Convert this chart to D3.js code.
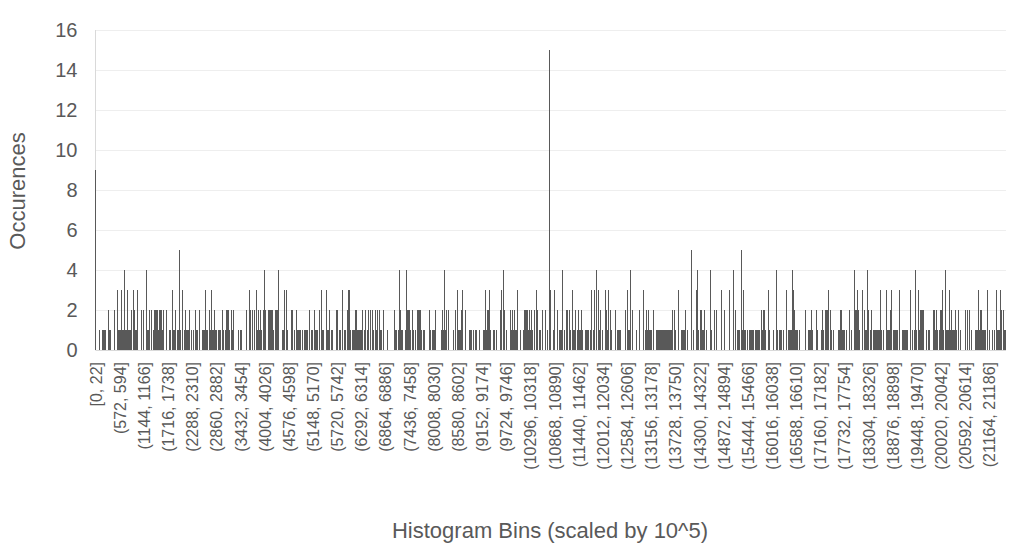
<!DOCTYPE html>
<html lang="en">
<head>
    <meta charset="UTF-8">
    <title>Histogram</title>
    <script src="https://cdn.jsdelivr.net/npm/d3@7"></script>
    <style>
        body { margin: 0; background: #fff; }
        text { font-family: "Liberation Sans", Arial, sans-serif; fill: #595959; }
        .grid line { stroke: #eeeeee; }
        .bar { fill: #595959; }
    </style>
</head>
<body>
<script>
    // counts per bin, one row per labelled group of 26 bins (bin width 22)
    var counts = [
        9,0,0,0,1,0,0,1,1,1,1,0,0,2,0,1,1,0,0,0,2,0,0,3,1,1,
        1,3,0,1,1,4,1,1,3,1,1,1,2,0,3,2,0,1,1,3,0,0,0,2,0,2,
        0,0,4,0,1,1,2,0,2,0,1,2,2,2,2,1,2,2,2,2,1,2,0,0,2,0,
        0,1,1,0,3,1,1,0,2,0,1,1,5,1,0,3,0,1,2,1,0,1,1,2,0,1,
        0,1,0,2,1,1,0,2,0,0,0,1,1,1,3,1,1,0,2,1,3,1,1,0,2,1,
        1,0,1,1,1,0,2,1,0,1,0,2,2,2,1,0,2,1,2,0,0,0,0,1,0,0,
        1,1,0,0,0,0,2,0,0,3,2,0,2,2,0,2,0,3,1,2,1,2,1,0,2,4,
        2,0,0,0,2,2,2,2,2,1,0,2,2,2,4,0,0,0,0,1,1,3,0,3,1,0,
        0,0,2,1,2,0,1,0,2,1,1,1,1,0,1,0,1,1,1,1,1,0,2,0,1,1,
        0,2,1,1,1,0,0,2,0,3,1,1,0,0,3,1,1,2,0,1,1,1,0,0,0,2,
        2,0,1,1,0,3,0,1,1,1,0,2,3,3,1,0,1,1,1,2,2,1,1,1,1,1,
        1,2,0,1,2,0,1,2,0,1,2,0,2,1,0,2,1,2,0,2,1,1,0,2,0,0,
        0,0,1,0,0,0,0,0,0,2,1,0,1,0,1,4,2,1,1,0,0,1,4,2,2,2,
        0,1,0,2,1,0,1,0,2,2,2,2,1,0,1,0,1,0,0,0,0,2,1,0,1,1,
        1,2,0,0,0,0,0,0,1,2,1,4,1,2,0,2,0,0,0,0,0,1,0,2,0,3,
        1,1,1,2,3,0,0,0,2,0,0,0,1,1,1,0,1,0,1,0,1,0,0,1,0,0,
        0,1,1,3,1,2,2,1,3,1,0,0,1,1,0,1,0,0,0,2,1,3,0,4,2,0,
        1,0,0,0,2,1,2,1,1,2,1,1,3,0,0,1,0,0,1,2,2,2,1,2,1,2,
        1,2,1,0,2,0,3,2,0,1,1,0,0,2,0,0,2,0,1,0,15,3,0,0,1,3,
        1,0,0,2,0,1,1,1,4,0,1,0,2,0,2,0,2,1,0,3,1,1,2,0,1,2,
        1,1,0,2,1,0,0,1,1,1,1,0,1,3,0,1,0,3,0,4,0,3,1,2,0,1,
        0,0,3,0,2,1,3,0,2,1,0,0,0,2,0,1,1,1,0,1,0,0,0,0,2,0,
        3,1,1,4,0,0,2,0,0,0,1,0,0,2,0,0,0,3,0,0,1,2,1,2,1,1,
        1,0,2,0,0,1,1,1,0,1,1,1,1,1,1,1,1,1,1,1,1,1,1,2,0,2,
        1,0,0,3,0,0,1,1,1,1,1,2,0,1,0,0,0,5,0,1,0,0,3,4,1,0,
        0,2,2,1,1,2,0,1,0,0,0,4,1,0,0,0,2,0,2,0,0,0,0,3,0,0,
        2,0,0,0,0,0,3,0,0,0,4,0,2,0,1,0,1,1,0,5,1,3,1,1,0,1,
        0,1,1,0,1,1,1,0,1,1,1,1,1,0,2,1,2,1,2,1,0,0,3,1,0,0,
        0,1,0,0,4,1,1,0,1,1,1,0,1,0,0,3,0,1,0,1,1,1,4,3,2,1,
        1,1,0,1,0,0,0,0,0,0,2,0,0,1,1,1,2,1,0,0,0,2,0,1,0,0,
        0,1,2,1,0,2,2,2,3,0,0,2,1,0,1,0,0,0,0,1,1,2,2,1,1,1,
        1,0,1,0,0,2,0,1,0,0,4,0,2,2,3,2,1,0,0,3,0,2,1,1,4,1,
        2,0,1,2,0,1,1,1,1,1,1,1,3,1,0,0,1,0,0,3,1,1,1,2,3,0,
        1,0,1,1,1,1,0,3,0,0,1,1,1,1,1,1,1,0,0,3,0,1,0,1,4,1,
        0,3,1,2,0,2,2,2,0,0,1,0,1,1,0,0,0,0,2,2,1,2,1,0,1,2,
        2,3,1,0,4,1,1,1,1,3,1,2,1,1,1,2,1,0,2,0,1,0,0,0,0,0,
        2,0,2,0,2,0,1,0,0,0,0,1,1,1,3,1,2,2,1,1,1,1,0,0,3,0,
        1,0,0,1,0,1,0,3,1,1,1,0,3,2,0,2,1,1
    ];

    // every 26th bin carries a label
    var labelStep = 26;
    var tickLabels = [
        "[0, 22]", "(572, 594]", "(1144, 1166]", "(1716, 1738]", "(2288, 2310]",
        "(2860, 2882]", "(3432, 3454]", "(4004, 4026]", "(4576, 4598]", "(5148, 5170]",
        "(5720, 5742]", "(6292, 6314]", "(6864, 6886]", "(7436, 7458]", "(8008, 8030]",
        "(8580, 8602]", "(9152, 9174]", "(9724, 9746]", "(10296, 10318]", "(10868, 10890]",
        "(11440, 11462]", "(12012, 12034]", "(12584, 12606]", "(13156, 13178]", "(13728, 13750]",
        "(14300, 14322]", "(14872, 14894]", "(15444, 15466]", "(16016, 16038]", "(16588, 16610]",
        "(17160, 17182]", "(17732, 17754]", "(18304, 18326]", "(18876, 18898]", "(19448, 19470]",
        "(20020, 20042]", "(20592, 20614]", "(21164, 21186]"
    ];
    var yTicks = [0, 2, 4, 6, 8, 10, 12, 14, 16];

    var width = 1020;
    var height = 551;
    var margin = {top: 30, right: 14, bottom: 201, left: 95.5};

    var svg = d3.select("body")
            .append("svg")
            .attr("width", width)
            .attr("height", height);

    var x = d3.scaleBand()
            .domain(d3.range(counts.length))
            .range([margin.left, width - margin.right])
            .padding(0);

    var y = d3.scaleLinear()
            .domain([0, 16])
            .range([height - margin.bottom, margin.top]);

    // gridlines (very faint)
    svg.append("g")
            .attr("class", "grid")
            .selectAll("line")
            .data(yTicks.slice(1))
            .enter()
            .append("line")
            .attr("x1", margin.left)
            .attr("x2", width - margin.right)
            .attr("y1", function (d) { return Math.round(y(d)) + 0.5; })
            .attr("y2", function (d) { return Math.round(y(d)) + 0.5; });

    // left axis line
    svg.append("line")
            .attr("x1", Math.floor(margin.left) + 0.5)
            .attr("x2", Math.floor(margin.left) + 0.5)
            .attr("y1", y(16))
            .attr("y2", y(0))
            .attr("stroke", "#d9d9d9");

    // bars: 1px wide, adjacent bins merge into blocks
    svg.append("g")
            .attr("shape-rendering", "crispEdges")
            .selectAll("rect")
            .data(counts.map(function (d, i) { return {i: i, v: d}; }).filter(function (d) { return d.v > 0; }))
            .enter()
            .append("rect")
            .attr("class", "bar")
            .attr("x", function (d) { return Math.floor(x(d.i) + x.bandwidth() / 2); })
            .attr("width", 1)
            .attr("y", function (d) { return Math.round(y(d.v)); })
            .attr("height", function (d) { return Math.round(y(0)) - Math.round(y(d.v)); });

    // bottom axis line
    svg.append("line")
            .attr("x1", margin.left)
            .attr("x2", width - margin.right)
            .attr("y1", Math.round(y(0)) + 0.5)
            .attr("y2", Math.round(y(0)) + 0.5)
            .attr("stroke", "#d9d9d9");

    // y axis
    var yAxis = d3.axisLeft(y).tickValues(yTicks).tickSize(0).tickPadding(18);
    svg.append("g")
            .attr("transform", "translate(" + margin.left + ",0)")
            .call(yAxis)
            .call(function (g) { g.select(".domain").remove(); })
            .selectAll("text")
            .style("font-size", "20px")
            .style("fill", "#595959");

    // x axis, labels rotated
    var xTickIdx = tickLabels.map(function (d, k) { return k * labelStep; });
    var xAxis = d3.axisBottom(x)
            .tickValues(xTickIdx)
            .tickFormat(function (d) { return tickLabels[d / labelStep]; })
            .tickSize(0);
    svg.append("g")
            .attr("transform", "translate(0," + y(0) + ")")
            .call(xAxis)
            .call(function (g) { g.select(".domain").remove(); })
            .selectAll("text")
            .style("font-size", "16px")
            .style("fill", "#595959")
            .attr("text-anchor", "end")
            .attr("transform", "rotate(-90)")
            .attr("x", -12)
            .attr("y", 0)
            .attr("dy", "0.35em");

    // axis titles
    svg.append("text")
            .attr("x", 550)
            .attr("y", 538)
            .attr("text-anchor", "middle")
            .style("font-size", "22px")
            .text("Histogram Bins (scaled by 10^5)");

    svg.append("text")
            .attr("transform", "translate(25,191) rotate(-90)")
            .attr("text-anchor", "middle")
            .style("font-size", "22px")
            .text("Occurences");
</script>
</body>
</html>
